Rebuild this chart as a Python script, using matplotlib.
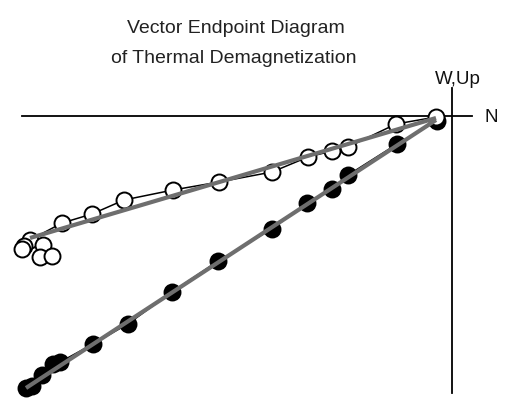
import numpy as np
import matplotlib.pyplot as plt

plt.rcParams['font.family'] = ['Liberation Sans', 'DejaVu Sans']

# open circles (N vs W), from origin outward
open_n = [-16, -56, -104, -120, -144, -180, -233, -279, -328, -360, -390, -422, -428, -430, -409, -412, -400]
open_w = [-1, -8, -31, -35, -41, -56, -66, -74, -84, -98, -107, -124, -130, -133, -129, -141, -140]

# filled circles (N vs Up)
fill_n = [-15, -55, -104, -120, -145, -180, -234, -280, -324, -359, -392, -399, -410, -420, -426]
fill_up = [-5, -28, -59, -73, -87, -113, -145, -176, -208, -228, -246, -248, -259, -270, -272]

# best-fit lines: origin end and far end
fit_open_n = [-16, -422]
fit_open_w = [-2, -122]
fit_fill_n = [-16, -426]
fit_fill_up = [-4, -272]

W, H = 508, 409
fig = plt.figure(figsize=(W / 100, H / 100), dpi=100)
ax = fig.add_axes([22 / W, (H - 393) / H, 450 / W, 305 / H])
ax.set_xlim(-430, 20)
ax.set_ylim(-277, 28)

for s in ['top', 'right']:
    ax.spines[s].set_visible(False)
ax.spines['left'].set_position(('data', 0))
ax.spines['bottom'].set_position(('data', 0))
ax.spines['left'].set_linewidth(1.3)
ax.spines['bottom'].set_linewidth(1.3)
ax.set_xticks([])
ax.set_yticks([])
ax.patch.set_visible(False)

ax.plot(fill_n, fill_up, color='black', lw=1.0, marker='o', ms=11.5,
        mfc='black', mec='black', mew=1.4, clip_on=False, zorder=3)
ax.plot(open_n, open_w, color='black', lw=1.1, marker='o', ms=11.5,
        mfc='white', mec='black', mew=1.4, clip_on=False, zorder=4)

ax.plot(fit_open_n, fit_open_w, color='#6e6e6e', lw=3.0, solid_capstyle='butt', zorder=5)
ax.plot(fit_fill_n, fit_fill_up, color='#6e6e6e', lw=3.0, solid_capstyle='butt', zorder=5)

fig.text(236 / W, 1 - 33 / H, 'Vector Endpoint Diagram', ha='center', va='baseline', fontsize=14, color='#222222')
fig.text(234 / W, 1 - 63 / H, 'of Thermal Demagnetization', ha='center', va='baseline', fontsize=14, color='#222222')
fig.text(458 / W, 1 - 84 / H, 'W,Up', ha='center', va='baseline', fontsize=13.5, color='#111111')
fig.text(491 / W, 1 - 118 / H, 'N', ha='center', va='center', fontsize=13.5, color='#111111')

fig.savefig('out.png', dpi=100, facecolor='white')
